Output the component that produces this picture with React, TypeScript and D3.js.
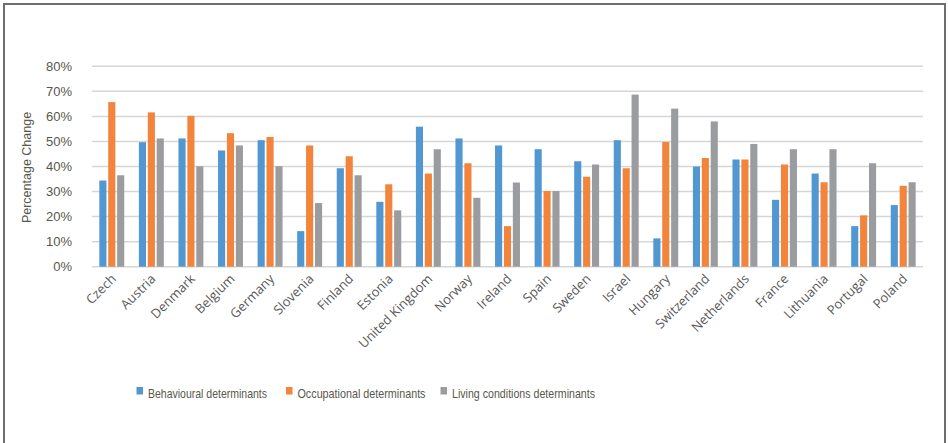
import React from 'react';
import * as d3 from 'd3';

// countries in chart order
const countries = ['Czech', 'Austria', 'Denmark', 'Belgium', 'Germany', 'Slovenia', 'Finland', 'Estonia',
  'United Kingdom', 'Norway', 'Ireland', 'Spain', 'Sweden', 'Israel', 'Hungary', 'Switzerland',
  'Netherlands', 'France', 'Lithuania', 'Portugal', 'Poland'];

const behavioural = [34.4, 49.7, 51.2, 46.4, 50.5, 14.2, 39.3, 25.9, 55.9, 51.2, 48.4, 46.9, 42.1, 50.5,
  11.3, 40.0, 42.8, 26.7, 37.2, 16.2, 24.6];
const occupational = [65.7, 61.6, 60.2, 53.3, 51.8, 48.4, 44.1, 32.9, 37.2, 41.3, 16.2, 30.2, 35.9, 39.3,
  49.8, 43.4, 42.8, 40.8, 33.7, 20.5, 32.3];
const living = [36.5, 51.2, 40.1, 48.4, 40.1, 25.4, 36.5, 22.5, 46.9, 27.5, 33.6, 30.2, 40.8, 68.7,
  63.1, 58.0, 49.0, 46.9, 46.9, 41.3, 33.7];

const seriesNames = ['Behavioural determinants', 'Occupational determinants', 'Living conditions determinants'];
const seriesColors = ['#5198D3', '#F2843B', '#9A9C9F'];
const yTicks = [0, 10, 20, 30, 40, 50, 60, 70, 80];

const W = 948;
const H = 443;
const plot = { left: 92, right: 923, top: 66.3, bottom: 266.7 };

export default function App() {
  const series = [behavioural, occupational, living];

  const x = d3.scaleBand<string>().domain(countries).range([plot.left, plot.right]).paddingInner(0.37).paddingOuter(0.185);
  const xInner = d3.scaleBand<number>().domain([0, 1, 2]).range([0, x.bandwidth()]).paddingInner(0.2);
  const y = d3.scaleLinear().domain([0, 80]).range([plot.bottom, plot.top]);

  const textCol = '#57574b';
  const legendX = [136.5, 286, 440.5];
  const legendLen = [119, 128, 143];

  return (
    <svg width={W} height={H} style={{ position: 'absolute', left: 0, top: 0, background: '#fff' }}>
      {/* frame, open at the bottom */}
      <path d={`M4,${H} V4 H945 V${H}`} fill="none" stroke="#6e6e6e" strokeWidth={2} />

      {/* gridlines */}
      {yTicks.map((t) => (
        <g key={t}>
          <line x1={plot.left} x2={plot.right} y1={y(t)} y2={y(t)} stroke="#d6d6d6" strokeWidth={1.5} />
          <text x={72} y={y(t)} dy="0.35em" textAnchor="end" fontFamily="Liberation Sans, Arial" fontSize={13} fill={textCol}>
            {t}%
          </text>
        </g>
      ))}

      <text transform={`translate(31,${(plot.top + plot.bottom) / 2 + 1}) rotate(-90)`} textAnchor="middle"
        fontFamily="Liberation Sans, Arial" fontSize={12.5} fill={textCol}>
        Percentage Change
      </text>

      {/* bars */}
      {countries.map((c, i) => (
        <g key={c} transform={`translate(${x(c)},0)`}>
          {series.map((s, k) => (
            <rect key={k} x={xInner(k)} y={y(s[i])} width={xInner.bandwidth()} height={plot.bottom - y(s[i])}
              fill={seriesColors[k]} />
          ))}
        </g>
      ))}

      {/* category labels */}
      {countries.map((c) => (
        <text key={c} transform={`translate(${(x(c) as number) + x.bandwidth() / 2 + 5},${plot.bottom + 13}) rotate(-45)`}
          textAnchor="end" fontFamily="Open Sans, sans-serif" fontSize={13} fill="#595959">
          {c}
        </text>
      ))}

      {/* legend */}
      {seriesNames.map((n, k) => (
        <g key={n}>
          <rect x={legendX[k]} y={387} width={6.5} height={7.5} fill={seriesColors[k]} />
          <text x={legendX[k] + 11.5} y={398} textLength={legendLen[k]} lengthAdjust="spacingAndGlyphs"
            fontFamily="Liberation Sans Narrow, Liberation Sans, Arial" fontSize={13.5} fill={textCol}>
            {n}
          </text>
        </g>
      ))}
    </svg>
  );
}
